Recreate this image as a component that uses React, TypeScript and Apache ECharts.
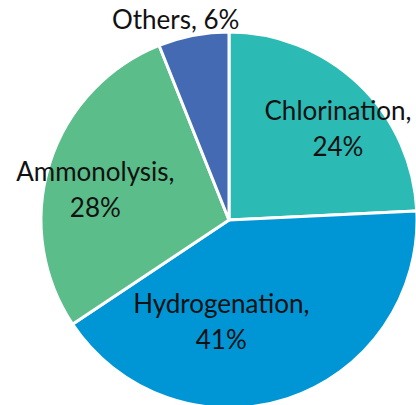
import React, { useEffect, useRef } from "react";
import * as echarts from "echarts";

const categories = ["Chlorination", "Hydrogenation", "Ammonolysis", "Others"];
const values = [24, 41, 28, 6];
const colors = ["#2cbab4", "#0096d5", "#5bbd8a", "#446ab4"];
const labelShift: [number, number][] = [
  [42, -22],
  [-38, 9],
  [-41, -2],
  [-35, -106],
];

export default function App() {
  const ref = useRef<HTMLDivElement>(null);
  useEffect(() => {
    if (!ref.current) return;
    const chart = echarts.init(ref.current, undefined, { renderer: "svg" });
    chart.setOption({
      animation: false,
      backgroundColor: "#ffffff",
      series: [
        {
          type: "pie",
          center: [229, 220],
          radius: 188,
          startAngle: 90,
          clockwise: true,
          data: categories.map((name, i) => ({
            name,
            value: values[i],
            itemStyle: { color: colors[i] },
            label: i === 3 ? { formatter: "{b}, {c}%" } : undefined,
          })),
          itemStyle: { borderColor: "#ffffff", borderWidth: 3 },
          label: {
            show: true,
            position: "inside",
            formatter: "{b},\n{c}%",
            fontFamily: "Lato",
            fontSize: 26,
            lineHeight: 36,
            color: "#111111",
            align: "center",
          },
          labelLine: { show: false },
          emphasis: { disabled: true },
          labelLayout: (params: any) => {
            const s = labelShift[params.dataIndex];
            return { dx: s[0], dy: s[1] };
          },
        },
      ],
    });
    return () => chart.dispose();
  }, []);
  return (
    <div
      ref={ref}
      style={{ position: "absolute", left: 0, top: 0, width: 416, height: 405 }}
    />
  );
}
